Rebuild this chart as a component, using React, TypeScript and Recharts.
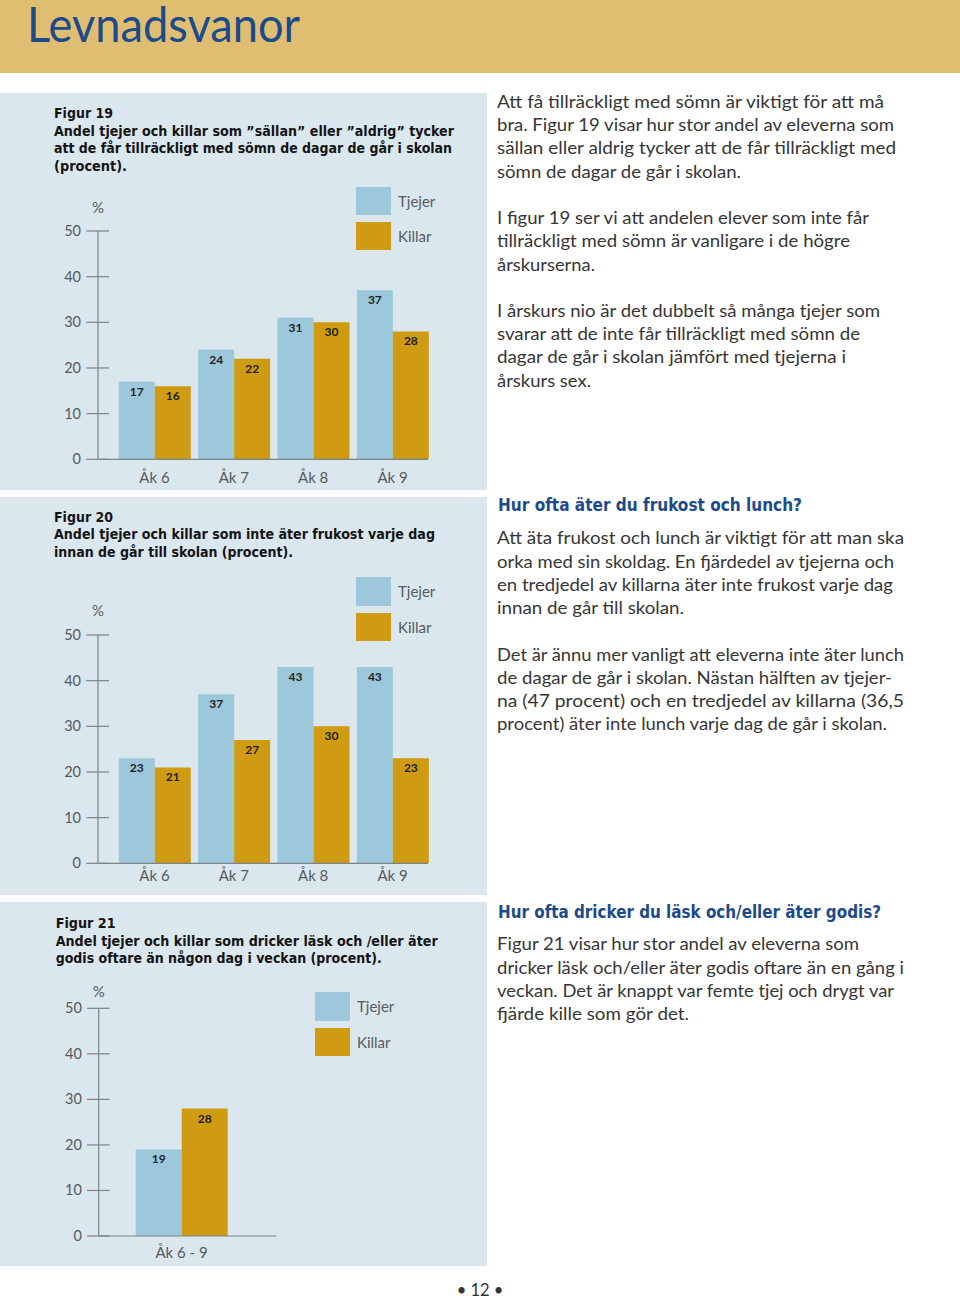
import React from 'react';
import { BarChart, Bar, XAxis, YAxis, LabelList, Legend } from 'recharts';

// ---------- data ----------
const grades = ['Åk 6', 'Åk 7', 'Åk 8', 'Åk 9'];
const sleepGirls = [17, 24, 31, 37];
const sleepBoys = [16, 22, 30, 28];
const breakfastGirls = [23, 37, 43, 43];
const breakfastBoys = [21, 27, 30, 23];
const sweetsGroup = ['Åk 6 - 9'];
const sweetsGirls = [19];
const sweetsBoys = [28];
const yTicks = [0, 10, 20, 30, 40, 50];
const seriesNames = ['Tjejer', 'Killar'];

// ---------- styles ----------
const GIRL = '#9DC7DA';
const BOY = '#CE9B13';
const PANEL = '#DBE7EF';
const HEADER = '#DFBE71';
const AXIS = '#7a838c';
const TICK_TEXT = '#555a5e';
const BLUE = '#1C4A8A';
const BODY_FONT = "Lato, 'Open Sans', sans-serif";
const NARROW_FONT = "'Liberation Sans Narrow', 'DejaVu Sans Condensed', Roboto, sans-serif";

const YTick = (props: any) => {
  const { x, y, payload, labelGap } = props;
  return (
    <g>
      <line x1={x - 11.7} x2={x + 11} y1={y} y2={y} stroke={AXIS} strokeWidth={1.2} />
      <text x={x - (labelGap ?? 17)} y={y + 5} textAnchor="end" fontSize={14.5} fill={TICK_TEXT} fontFamily={BODY_FONT}>
        {payload.value}
      </text>
    </g>
  );
};

const XTick = (props: any) => {
  const { x, y, payload, labelDy } = props;
  return (
    <text x={x} y={y + labelDy} textAnchor="middle" fontSize={15} fill={TICK_TEXT} fontFamily={BODY_FONT}>
      {payload.value}
    </text>
  );
};

const LegendContent = (props: any) => {
  const items = [...(props.payload || [])].sort(
    (a: any, b: any) => seriesNames.indexOf(a.value) - seriesNames.indexOf(b.value)
  );
  return (
    <div style={{ display: 'flex', flexDirection: 'column' }}>
      {items.map((p: any, i: number) => (
        <div key={i} style={{ display: 'flex', alignItems: 'center', marginBottom: i === 0 ? 7 : 0 }}>
          <div style={{ width: 35, height: 28.3, background: p.color }} />
          <span style={{ marginLeft: 6.7, fontSize: 15, color: TICK_TEXT, fontFamily: BODY_FONT, lineHeight: '18px' }}>
            {p.value}
          </span>
        </div>
      ))}
    </div>
  );
};

type ChartProps = {
  categories: string[];
  girls: number[];
  boys: number[];
  top: number;
  height: number;
  margin: { top: number; right: number; bottom: number; left: number };
  yWidth: number;
  padding: { left: number; right: number };
  barSize: number;
  labelDy: number;
  labelGap: number;
  legendLeft: number;
  legendTop: number;
};

function GroupedBars(p: ChartProps) {
  const data = p.categories.map((c, i) => ({ name: c, girls: p.girls[i], boys: p.boys[i] }));
  const labelStyle = { fontSize: 12, fontWeight: 700, fill: '#1e1e1e', fontFamily: BODY_FONT };
  return (
    <div style={{ position: 'absolute', left: 0, top: p.top }}>
      <BarChart width={486} height={p.height} data={data} margin={p.margin} barGap={0} barCategoryGap={0}>
        <XAxis
          dataKey="name"
          padding={p.padding}
          axisLine={{ stroke: AXIS, strokeWidth: 1.2 }}
          tickLine={false}
          tickSize={0}
          tickMargin={0}
          height={30}
          interval={0}
          tick={<XTick labelDy={p.labelDy} />}
        />
        <YAxis
          domain={[0, 50]}
          ticks={yTicks}
          width={p.yWidth}
          axisLine={{ stroke: AXIS, strokeWidth: 1.2 }}
          tickLine={false}
          tickSize={0}
          tickMargin={0}
          interval={0}
          allowDataOverflow
          tick={<YTick labelGap={p.labelGap} />}
        />
        <Legend
          layout="vertical"
          align="center"
          verticalAlign="middle"
          content={<LegendContent />}
          wrapperStyle={{ left: p.legendLeft, top: p.legendTop, width: 'auto', height: 'auto' }}
        />
        <Bar dataKey="girls" name={seriesNames[0]} fill={GIRL} barSize={p.barSize} isAnimationActive={false}>
          <LabelList dataKey="girls" position="insideTop" offset={5.5} style={labelStyle} />
        </Bar>
        <Bar dataKey="boys" name={seriesNames[1]} fill={BOY} barSize={p.barSize} isAnimationActive={false}>
          <LabelList dataKey="boys" position="insideTop" offset={5.5} style={labelStyle} />
        </Bar>
      </BarChart>
    </div>
  );
}

// ---------- page text ----------
type Line = { t: string; x: number; y: number; w: number; kind: 'title' | 'fig' | 'body' | 'head' | 'pct' | 'page' };

const figLines: Line[] = [
  { t: 'Figur 19', x: 54, y: 118.3, w: 59, kind: 'fig' },
  { t: 'Andel tjejer och killar som ”sällan” eller ”aldrig” tycker', x: 54, y: 136, w: 400, kind: 'fig' },
  { t: 'att de får tillräckligt med sömn de dagar de går i skolan', x: 54, y: 153.3, w: 398, kind: 'fig' },
  { t: '(procent).', x: 54, y: 170.6, w: 73, kind: 'fig' },
  { t: 'Figur 20', x: 54, y: 521.7, w: 59, kind: 'fig' },
  { t: 'Andel tjejer och killar som inte äter frukost varje dag', x: 54, y: 539.3, w: 381, kind: 'fig' },
  { t: 'innan de går till skolan (procent).', x: 54, y: 556.7, w: 239, kind: 'fig' },
  { t: 'Figur 21', x: 55.7, y: 928.3, w: 60, kind: 'fig' },
  { t: 'Andel tjejer och killar som dricker läsk och /eller äter', x: 55.7, y: 945.7, w: 382, kind: 'fig' },
  { t: 'godis oftare än någon dag i veckan (procent).', x: 55.7, y: 963.3, w: 326, kind: 'fig' },
];

const bodyLines: Line[] = [
  { t: 'Att få tillräckligt med sömn är viktigt för att må', x: 497, y: 107.7, w: 387, kind: 'body' },
  { t: 'bra. Figur 19 visar hur stor andel av eleverna som', x: 497, y: 131, w: 397, kind: 'body' },
  { t: 'sällan eller aldrig tycker att de får tillräckligt med', x: 497, y: 154.3, w: 399, kind: 'body' },
  { t: 'sömn de dagar de går i skolan.', x: 497, y: 177.7, w: 244, kind: 'body' },
  { t: 'I figur 19 ser vi att andelen elever som inte får', x: 497, y: 224, w: 372, kind: 'body' },
  { t: 'tillräckligt med sömn är vanligare i de högre', x: 497, y: 247.3, w: 353, kind: 'body' },
  { t: 'årskurserna.', x: 497, y: 270.7, w: 98, kind: 'body' },
  { t: 'I årskurs nio är det dubbelt så många tjejer som', x: 497, y: 316.7, w: 383, kind: 'body' },
  { t: 'svarar att de inte får tillräckligt med sömn de', x: 497, y: 340, w: 363, kind: 'body' },
  { t: 'dagar de går i skolan jämfört med tjejerna i', x: 497, y: 363.3, w: 349, kind: 'body' },
  { t: 'årskurs sex.', x: 497, y: 386.7, w: 94, kind: 'body' },

  { t: 'Hur ofta äter du frukost och lunch?', x: 498, y: 510.7, w: 304, kind: 'head' },
  { t: 'Att äta frukost och lunch är viktigt för att man ska', x: 497, y: 544.3, w: 407, kind: 'body' },
  { t: 'orka med sin skoldag. En fjärdedel av tjejerna och', x: 497, y: 567.7, w: 397, kind: 'body' },
  { t: 'en tredjedel av killarna äter inte frukost varje dag', x: 497, y: 590.7, w: 396, kind: 'body' },
  { t: 'innan de går till skolan.', x: 497, y: 614, w: 187, kind: 'body' },
  { t: 'Det är ännu mer vanligt att eleverna inte äter lunch', x: 497, y: 660.7, w: 407, kind: 'body' },
  { t: 'de dagar de går i skolan. Nästan hälften av tjejer-', x: 497, y: 683.7, w: 395, kind: 'body' },
  { t: 'na (47 procent) och en tredjedel av killarna (36,5', x: 497, y: 707, w: 407, kind: 'body' },
  { t: 'procent) äter inte lunch varje dag de går i skolan.', x: 497, y: 730.3, w: 390, kind: 'body' },

  { t: 'Hur ofta dricker du läsk och/eller äter godis?', x: 498, y: 918, w: 383, kind: 'head' },
  { t: 'Figur 21 visar hur stor andel av eleverna som', x: 497, y: 950.2, w: 362, kind: 'body' },
  { t: 'dricker läsk och/eller äter godis oftare än en gång i', x: 497, y: 973.5, w: 407, kind: 'body' },
  { t: 'veckan. Det är knappt var femte tjej och drygt var', x: 497, y: 996.8, w: 397, kind: 'body' },
  { t: 'fjärde kille som gör det.', x: 497, y: 1020.1, w: 192, kind: 'body' },
];

const styleFor = (k: Line['kind']) => {
  switch (k) {
    case 'fig':
      return { fontFamily: NARROW_FONT, fontWeight: 700, fontSize: 14.5, fill: '#141414' };
    case 'head':
      return { fontFamily: NARROW_FONT, fontWeight: 700, fontSize: 17.5, fill: BLUE };
    case 'body':
      return { fontFamily: BODY_FONT, fontWeight: 400, fontSize: 16.5, fill: '#363636' };
    default:
      return { fontFamily: BODY_FONT, fontWeight: 400, fontSize: 15, fill: TICK_TEXT };
  }
};

export default function App() {
  return (
    <div style={{ position: 'absolute', left: 0, top: 0, width: 960, height: 1298, background: '#fff', overflow: 'hidden' }}>
      {/* header band */}
      <div style={{ position: 'absolute', left: 0, top: 0, width: 960, height: 73.3, background: HEADER }} />
      {/* panels */}
      <div style={{ position: 'absolute', left: 0, top: 93.3, width: 486.7, height: 396.7, background: PANEL }} />
      <div style={{ position: 'absolute', left: 0, top: 497.3, width: 486.7, height: 397.7, background: PANEL }} />
      <div style={{ position: 'absolute', left: 0, top: 902, width: 486.7, height: 364, background: PANEL }} />

      <GroupedBars
        categories={grades}
        girls={sleepGirls}
        boys={sleepBoys}
        top={93}
        height={397}
        margin={{ top: 138, right: 58, bottom: 0.7, left: 0 }}
        yWidth={98}
        padding={{ left: 16.8, right: -4.2 }}
        barSize={36}
        labelDy={24}
        labelGap={17}
        legendLeft={356.3}
        legendTop={93.7}
      />
      <GroupedBars
        categories={grades}
        girls={breakfastGirls}
        boys={breakfastBoys}
        top={497}
        height={398}
        margin={{ top: 138, right: 58, bottom: 1.7, left: 0 }}
        yWidth={98}
        padding={{ left: 16.8, right: -4.2 }}
        barSize={36}
        labelDy={17.8}
        labelGap={17}
        legendLeft={356.3}
        legendTop={80.3}
      />
      <GroupedBars
        categories={sweetsGroup}
        girls={sweetsGirls}
        boys={sweetsBoys}
        top={902}
        height={364}
        margin={{ top: 106.3, right: 209.7, bottom: 0, left: 0 }}
        yWidth={98.7}
        padding={{ left: 0, right: 12 }}
        barSize={46}
        labelDy={22.3}
        labelGap={16.8}
        legendLeft={315.3}
        legendTop={90.3}
      />

      <svg width={960} height={1298} style={{ position: 'absolute', left: 0, top: 0, pointerEvents: 'none' }}>
        <text x={27} y={42} fontFamily={BODY_FONT} fontSize={49} fill={BLUE} textLength={273} lengthAdjust="spacingAndGlyphs">
          Levnadsvanor
        </text>
        {[...figLines, ...bodyLines].map((l, i) => (
          <text key={i} x={l.x} y={l.y} textLength={l.w} lengthAdjust="spacingAndGlyphs" {...styleFor(l.kind)}>
            {l.t}
          </text>
        ))}
        <text x={98} y={212.7} textAnchor="middle" {...styleFor('pct')}>%</text>
        <text x={98} y={616} textAnchor="middle" {...styleFor('pct')}>%</text>
        <text x={98.7} y={996.7} textAnchor="middle" {...styleFor('pct')}>%</text>
        <text x={480} y={1295.5} textAnchor="middle" fontFamily={BODY_FONT} fontSize={16.5} fill="#333">
          • 12 •
        </text>
      </svg>
    </div>
  );
}
